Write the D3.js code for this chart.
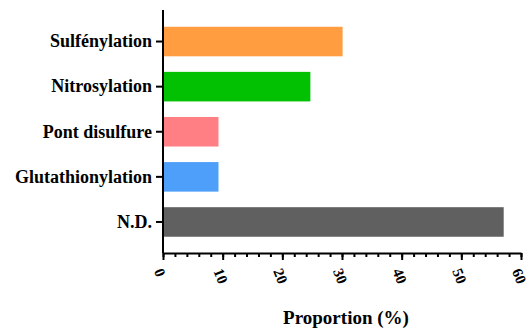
<!DOCTYPE html>
<html>
<head>
<meta charset="utf-8">
<script src="https://cdn.jsdelivr.net/npm/d3@7"></script>
<style>
    body { margin: 0; background: #fff; }
    .axis path, .axis line { stroke: #000; stroke-width: 2; }
</style>
</head>
<body>
<script>
// data
var categories = ["Sulfénylation", "Nitrosylation", "Pont disulfure", "Glutathionylation", "N.D."];
var values = [30.1, 24.7, 9.3, 9.3, 57.1];
var barColors = ["#ff9d40", "#02c102", "#ff7f85", "#4d9ff9", "#606060"];
var xTicks = [0, 10, 20, 30, 40, 50, 60];

var width = 532, height = 329,
    margins = {top: 10, left: 163, right: 11, bottom: 76};
var serif = "Liberation Serif";

var svg = d3.select("body").append("svg")
    .attr("width", width)
    .attr("height", height);

var plotW = width - margins.left - margins.right,
    plotH = height - margins.top - margins.bottom;

var x = d3.scaleLinear().domain([0, 60]).range([0, plotW]);
var y = d3.scaleBand().domain(categories).range([9, 234.5]).paddingInner(0.345).paddingOuter(0.172);

var g = svg.append("g")
    .attr("transform", "translate(" + margins.left + "," + margins.top + ")");

// bars
g.selectAll("rect.bar")
    .data(categories)
    .enter().append("rect")
    .attr("class", "bar")
    .attr("x", 0)
    .attr("y", function (d) { return y(d); })
    .attr("width", function (d, i) { return x(values[i]); })
    .attr("height", y.bandwidth())
    .attr("fill", function (d, i) { return barColors[i]; });

// minor ticks on x
var minorAxis = d3.axisBottom(x)
    .tickValues(d3.range(0, 61, 2))
    .tickSize(4)
    .tickFormat("");
g.append("g")
    .attr("class", "axis")
    .attr("transform", "translate(0," + plotH + ")")
    .call(minorAxis)
    .select(".domain").remove();

// major x axis
var xAxis = d3.axisBottom(x)
    .tickValues(xTicks)
    .tickSize(7)
    .tickSizeOuter(0)
    .tickFormat(d3.format("d"));
var xg = g.append("g")
    .attr("class", "axis")
    .attr("transform", "translate(0," + plotH + ")")
    .call(xAxis)
    .attr("font-family", serif)
    .attr("font-weight", "bold");
xg.selectAll("text")
    .attr("font-size", "15px")
    .attr("text-anchor", "start")
    .attr("dy", "0.35em")
    .attr("transform", "translate(-5,16) rotate(68)")
    .attr("x", 0)
    .attr("y", 0);

// y axis
var yAxis = d3.axisLeft(y)
    .tickSize(7)
    .tickPadding(4)
    .tickSizeOuter(0);
var yg = g.append("g")
    .attr("class", "axis")
    .call(yAxis)
    .attr("font-family", serif)
    .attr("font-weight", "bold");
yg.select(".domain").attr("d", "M0,0V" + plotH);
yg.selectAll("text")
    .attr("font-size", "18px");

// axis title
svg.append("text")
    .attr("x", 346)
    .attr("y", 324)
    .attr("text-anchor", "middle")
    .attr("font-family", serif)
    .attr("font-weight", "bold")
    .attr("font-size", "19px")
    .text("Proportion (%)");
</script>
</body>
</html>
